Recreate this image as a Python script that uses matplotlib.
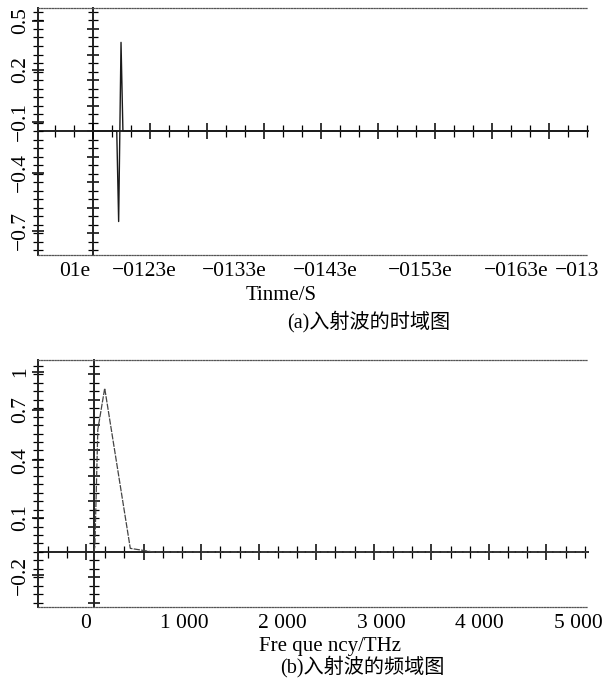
import matplotlib
matplotlib.use("Agg")
import matplotlib.pyplot as plt
from matplotlib.ticker import MultipleLocator, FixedLocator, NullFormatter

# Incident wave, time domain (arbitrary time units, axis line = 0)
time_a = [0.0, 0.25, 0.27, 0.295, 0.315, 5.2]
amp_a = [0.0, 0.0, -0.50, 0.49, 0.0, 0.0]
ytick_pos_a = [0.61, 0.34, 0.05, -0.23, -0.55]
ytick_lab_a = ["0.5", "0.2", "\u22120.1", "\u22120.4", "\u22120.7"]
xtick_pos_a = [-0.19, 0.54, 1.49, 2.44, 3.44, 4.46, 5.1]
xtick_lab_a = ["01e", "\u22120123e", "\u22120133e", "\u22120143e", "\u22120153e", "\u22120163e", "\u2212013"]

# Incident wave, frequency domain
freq_b = [80, 90, 120, 190, 450, 680, 1000, 2000, 3000, 4000, 5100]
amp_b = [0.0, 0.03, 0.68, 0.91, 0.02, 0.0, 0.0, 0.0, 0.0, 0.0, 0.0]
ytick_pos_b = [1.0, 0.79, 0.51, 0.19, -0.13]
ytick_lab_b = ["1", "0.7", "0.4", "0.1", "\u22120.2"]
xtick_pos_b = [0, 1000, 2000, 3000, 4000, 5000]
xtick_lab_b = ["0", "1 000", "2 000", "3 000", "4 000", "5 000"]

serif = "Liberation Serif"
cap_font = [serif, "Noto Sans CJK SC"]
W, H = 604, 686

fig = plt.figure(figsize=(W / 100, H / 100), dpi=100)
fig.patch.set_facecolor("white")


def style_panel(ax, xlim, ylim, ypos, ylab, xpos, xlab, ystep, xstep, vloc, hloc):
    ax.set_xlim(*xlim)
    ax.set_ylim(*ylim)
    for s in ["top", "bottom"]:
        ax.spines[s].set_linestyle((0, (1, 1.2)))
        ax.spines[s].set_color("#555555")
        ax.spines[s].set_linewidth(0.9)
    ax.spines["right"].set_visible(False)
    ax.spines["left"].set_linewidth(1.4)
    ax.spines["left"].set_color("#222222")

    ax.yaxis.set_major_locator(FixedLocator(ypos))
    ax.set_yticklabels(ylab, rotation=90, va="center", fontsize=15.5, family=serif)
    ax.yaxis.set_minor_locator(MultipleLocator(ystep))
    ax.tick_params(axis="y", which="major", direction="inout", length=9, width=1.1, pad=1)
    ax.tick_params(axis="y", which="minor", direction="inout", length=7, width=0.9)

    ax.xaxis.set_major_locator(FixedLocator(xpos))
    ax.set_xticklabels(xlab, fontsize=15.5, family=serif)
    ax.tick_params(axis="x", which="both", length=0, pad=5)

    # vertical axis line through the origin
    sy = ax.secondary_yaxis(vloc)
    sy.spines["left"].set_linewidth(1.4)
    sy.spines["left"].set_color("#222222")
    sy.yaxis.set_major_locator(MultipleLocator(ystep * 3))
    sy.yaxis.set_minor_locator(MultipleLocator(ystep))
    sy.yaxis.set_major_formatter(NullFormatter())
    sy.tick_params(which="major", direction="inout", length=9, width=1.1)
    sy.tick_params(which="minor", direction="inout", length=7, width=0.9)

    # horizontal axis line at zero
    sx = ax.secondary_xaxis(hloc)
    for s in ["top", "bottom"]:
        sx.spines[s].set_linewidth(1.4)
        sx.spines[s].set_color("#222222")
    sx.xaxis.set_major_locator(MultipleLocator(xstep * 3))
    sx.xaxis.set_minor_locator(MultipleLocator(xstep))
    sx.xaxis.set_major_formatter(NullFormatter())
    sx.tick_params(which="major", direction="inout", length=11, width=1.1)
    sx.tick_params(which="minor", direction="inout", length=9, width=0.9)


# (a) time domain
ax_a = fig.add_axes([38 / W, 1 - 255 / H, 550 / W, 247 / H])
style_panel(ax_a, (-0.579, 5.211), (-0.685, 0.680), ytick_pos_a, ytick_lab_a,
            xtick_pos_a, xtick_lab_a, 0.047, 0.2, 0.1, 0.502)
ax_a.plot(time_a, amp_a, color="#1a1a1a", lw=1.0, zorder=5)

# (b) frequency domain
ax_b = fig.add_axes([38 / W, 1 - 607 / H, 550 / W, 247 / H])
style_panel(ax_b, (-488, 5102), (-0.306, 1.067), ytick_pos_b, ytick_lab_b,
            xtick_pos_b, xtick_lab_b, 0.047, 195, 0.1018, 0.2227)
ax_b.plot(freq_b, amp_b, color="#444444", lw=0.9, ls=(0, (5, 1)), zorder=5)

# axis titles and captions
fig.text(281 / W, 1 - 296 / H, "Tinme/S", ha="center", va="center", fontsize=15, family=serif)
fig.text(369 / W, 1 - 322 / H, "(a)入射波的时域图", ha="center", va="center", fontsize=14.5, family=cap_font)
fig.text(330 / W, 1 - 647 / H, "Fre que ncy/THz", ha="center", va="center", fontsize=15, family=serif)
fig.text(362 / W, 1 - 667 / H, "(b)入射波的频域图", ha="center", va="center", fontsize=14.5, family=cap_font)

fig.savefig("out.png", dpi=100)
